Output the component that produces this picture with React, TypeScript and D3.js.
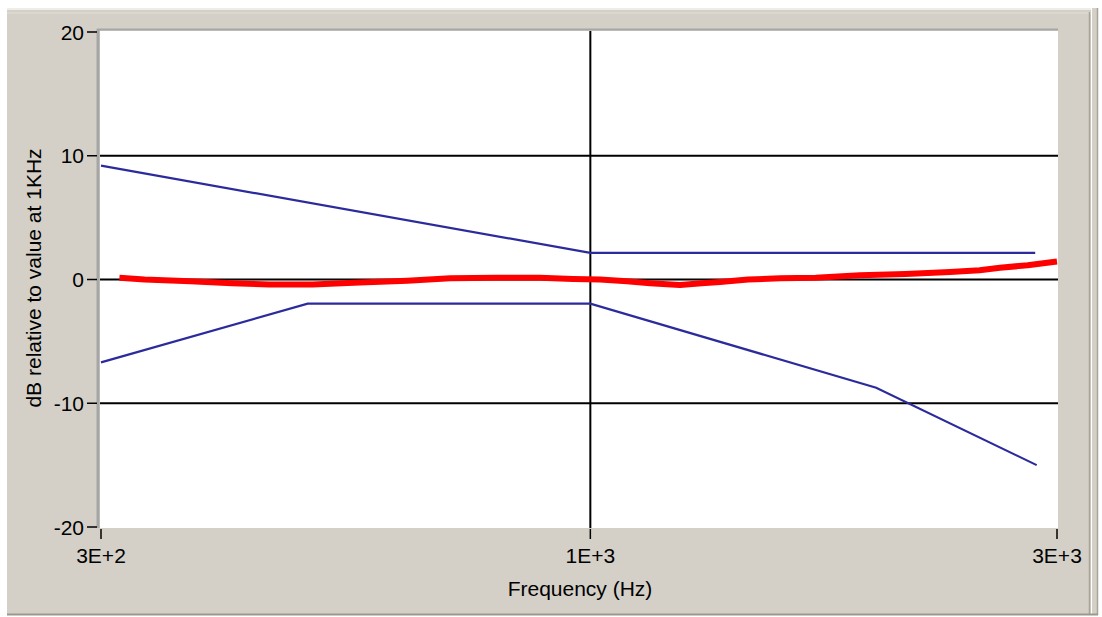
import React from "react";
import { scaleLog, scaleLinear, line } from "d3";

// x axis ends (the labels are rounded to one figure)
const xDomain = [316, 3000];
const xTicks = [316, 1000, 3000];
const xTickLabels = ["3E+2", "1E+3", "3E+3"];
const yTicks = [20, 10, 0, -10, -20];
const yGrid = [10, 0, -10];
const xGrid = [1000];

// upper limit
const upperFreq = [316, 1000, 2850];
const upperDb = [9.2, 2.15, 2.15];

// lower limit
const lowerFreq = [316, 514, 1000, 1960, 2860];
const lowerDb = [-6.7, -1.95, -1.95, -8.75, -15.0];

// measured response
const measFreq = [330, 350, 390, 430, 470, 520, 581, 650, 719, 800, 888, 960, 1023, 1090, 1151, 1235, 1300, 1357, 1450, 1563, 1700, 1887, 2100, 2332, 2500, 2623, 2800, 3000];
const measDb = [0.15, 0.0, -0.15, -0.3, -0.4, -0.4, -0.25, -0.1, 0.1, 0.15, 0.15, 0.05, 0.0, -0.15, -0.3, -0.45, -0.3, -0.2, 0.0, 0.1, 0.15, 0.35, 0.45, 0.6, 0.75, 0.95, 1.15, 1.45];

const W = 1102;
const H = 617;
const plot = { left: 100, right: 1058, top: 31, bottom: 528 };

export default function App() {
  const x = scaleLog().domain(xDomain).range([101, 1057]);
  const y = scaleLinear().domain([-20, 20]).range([527, 32]);

  const path = (fs: number[], vs: number[]) =>
    line<number>()
      .x((_, i) => x(fs[i]))
      .y((v) => y(v))(vs) ?? "";

  const font = "'Liberation Sans', Arial, sans-serif";

  return (
    <svg
      width={W}
      height={H}
      style={{ position: "absolute", left: 0, top: 0, background: "#ffffff" }}
      fontFamily={font}
    >
      {/* window panel */}
      <rect x={7} y={8} width={1084} height={607} fill="#d4d0c8" />
      <line x1={7} x2={1091} y1={9} y2={9} stroke="#efede8" strokeWidth={2} />
      <line x1={7} x2={1091} y1={13} y2={13} stroke="#e2dfd8" strokeWidth={1} />
      <line x1={1089.5} x2={1089.5} y1={12} y2={615} stroke="#a8a496" strokeWidth={1.5} />
      <rect x={1092} y={8} width={6} height={607} fill="#d4d0c8" />
      <line x1={1097.5} x2={1097.5} y1={8} y2={615} stroke="#a8a496" strokeWidth={1.5} />
      <line x1={7} x2={1098} y1={614.5} y2={614.5} stroke="#9c988c" strokeWidth={2} />

      {/* plot area */}
      <rect x={plot.left} y={plot.top} width={plot.right - plot.left} height={plot.bottom - plot.top} fill="#ffffff" />
      <line x1={plot.left - 2} x2={plot.left - 2} y1={plot.top - 2} y2={plot.bottom} stroke="#a6a6a6" strokeWidth={3} />
      <line x1={plot.left - 3} x2={plot.right} y1={plot.top - 1.5} y2={plot.top - 1.5} stroke="#a6a6a6" strokeWidth={2} />

      {/* grid */}
      {yGrid.map((v) => (
        <line key={v} x1={plot.left} x2={plot.right} y1={y(v)} y2={y(v)} stroke="#000" strokeWidth={2} />
      ))}
      {xGrid.map((f) => (
        <line key={f} x1={x(f)} x2={x(f)} y1={plot.top} y2={plot.bottom} stroke="#000" strokeWidth={2} />
      ))}

      {/* limits and measured curve */}
      <path d={path(upperFreq, upperDb)} fill="none" stroke="#2b2b9d" strokeWidth={2.2} />
      <path d={path(lowerFreq, lowerDb)} fill="none" stroke="#2b2b9d" strokeWidth={2.2} />
      <path d={path(measFreq, measDb)} fill="none" stroke="#ff0000" strokeWidth={6} strokeLinejoin="round" />

      {/* y axis */}
      {yTicks.map((v) => (
        <g key={v} transform={`translate(0,${y(v)})`}>
          <line x1={87} x2={97} stroke="#000" strokeWidth={1.5} />
          <text x={84} textAnchor="end" dy="0.36em" fontSize={21} fill="#000">
            {v}
          </text>
        </g>
      ))}
      <text
        transform={`translate(41,${278}) rotate(-90)`}
        textAnchor="middle"
        fontSize={21}
        fill="#000"
      >
        dB relative to value at 1KHz
      </text>

      {/* x axis */}
      {xTicks.map((f, i) => (
        <g key={f} transform={`translate(${x(f)},0)`}>
          <line y1={529} y2={539} stroke="#000" strokeWidth={1.5} />
          <text y={563} textAnchor="middle" fontSize={21} fill="#000">
            {xTickLabels[i]}
          </text>
        </g>
      ))}
      <text x={580} y={596} textAnchor="middle" fontSize={21} fill="#000">
        Frequency (Hz)
      </text>
    </svg>
  );
}
